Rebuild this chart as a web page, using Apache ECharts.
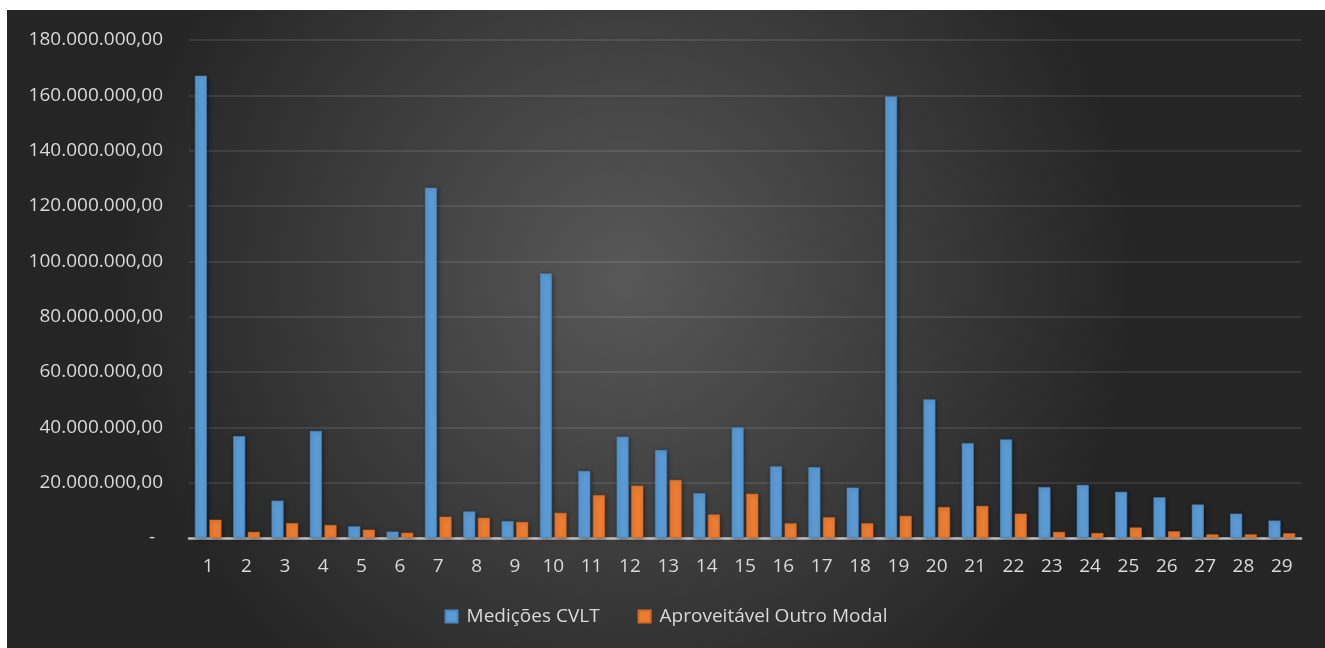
<!DOCTYPE html>
<html>
<head>
<meta charset="utf-8">
<script src="https://cdn.jsdelivr.net/npm/echarts@6/dist/echarts.min.js"></script>
<style>
  html, body { margin: 0; padding: 0; background: #ffffff; width: 1325px; height: 648px; overflow: hidden; }
  #chart { position: absolute; left: 7px; top: 10px; width: 1318px; height: 638px; }
</style>
</head>
<body>
<div id="chart"></div>
<script>
// Categories 1..29
const categories = ['1','2','3','4','5','6','7','8','9','10','11','12','13','14','15','16','17','18','19','20','21','22','23','24','25','26','27','28','29'];

// Medições CVLT
const medicoes = [
  167100000, 36800000, 13500000, 38700000, 4200000, 2300000, 126600000, 9600000, 6100000, 95600000,
  24200000, 36600000, 31800000, 16200000, 40000000, 25900000, 25600000, 18200000, 159600000, 50100000,
  34300000, 35600000, 18400000, 19200000, 16700000, 14700000, 12100000, 8800000, 6300000
];

// Aproveitável Outro Modal
const aproveitavel = [
  6600000, 2200000, 5400000, 4700000, 3000000, 1900000, 7700000, 7300000, 5800000, 9100000,
  15500000, 18900000, 21000000, 8500000, 16000000, 5300000, 7500000, 5300000, 8000000, 11200000,
  11600000, 8800000, 2200000, 1800000, 3800000, 2400000, 1300000, 1300000, 1700000
];

const seriesNames = ['Medições CVLT', 'Aproveitável Outro Modal'];

// pt-BR style number: 180.000.000,00 ; zero shown as a dash
function fmt(v) {
  if (v === 0) return '{z|-}';
  const s = Math.round(v).toString().replace(/\B(?=(\d{3})+(?!\d))/g, '.');
  return s + ',00';
}

const FONT = 'Open Sans';
const TEXT = '#d9d9d9';
const FS = 19;

const chart = echarts.init(document.getElementById('chart'), null, { renderer: 'canvas' });
chart.setOption({
  backgroundColor: {
    type: 'radial', x: 0.47, y: 0.42, r: 0.8,
    colorStops: [
      { offset: 0, color: '#585858' },
      { offset: 1, color: '#252525' }
    ]
  },
  textStyle: { fontFamily: FONT, color: TEXT },
  grid: { left: 182, right: 24, top: 30, bottom: 110 },
  legend: {
    bottom: 17,
    left: 'center',
    itemWidth: 12, itemHeight: 12, itemGap: 38,
    icon: 'rect',
    textStyle: { color: TEXT, fontFamily: FONT, fontSize: FS, padding: [0, 0, 0, 4] },
    data: seriesNames
  },
  xAxis: {
    type: 'category',
    data: categories,
    axisLine: { lineStyle: { color: '#bfbfbf', width: 2.5 } },
    axisTick: { show: false },
    axisLabel: { color: TEXT, fontFamily: FONT, fontSize: FS, margin: 19 }
  },
  yAxis: {
    type: 'value',
    min: 0, max: 180000000, interval: 20000000,
    axisLine: { show: false },
    axisTick: { show: false },
    splitLine: { lineStyle: { color: 'rgba(255,255,255,0.12)', width: 1.5 } },
    axisLabel: {
      color: TEXT, fontFamily: FONT, fontSize: FS, margin: 26,
      formatter: fmt,
      rich: { z: { color: TEXT, fontFamily: FONT, fontSize: FS, padding: [0, 8, 0, 0] } }
    }
  },
  series: [
    {
      name: seriesNames[0], type: 'bar', data: medicoes,
      barWidth: 12, barGap: '22%',
      itemStyle: { color: '#5b9bd5', borderColor: '#4a86bd', borderWidth: 0.6,
        shadowBlur: 4, shadowColor: 'rgba(0,0,0,0.45)', shadowOffsetX: 1, shadowOffsetY: 1 }
    },
    {
      name: seriesNames[1], type: 'bar', data: aproveitavel,
      barWidth: 12,
      itemStyle: { color: '#ed7d31', borderColor: '#d46a25', borderWidth: 0.6,
        shadowBlur: 4, shadowColor: 'rgba(0,0,0,0.45)', shadowOffsetX: 1, shadowOffsetY: 1 }
    }
  ]
});
</script>
</body>
</html>
